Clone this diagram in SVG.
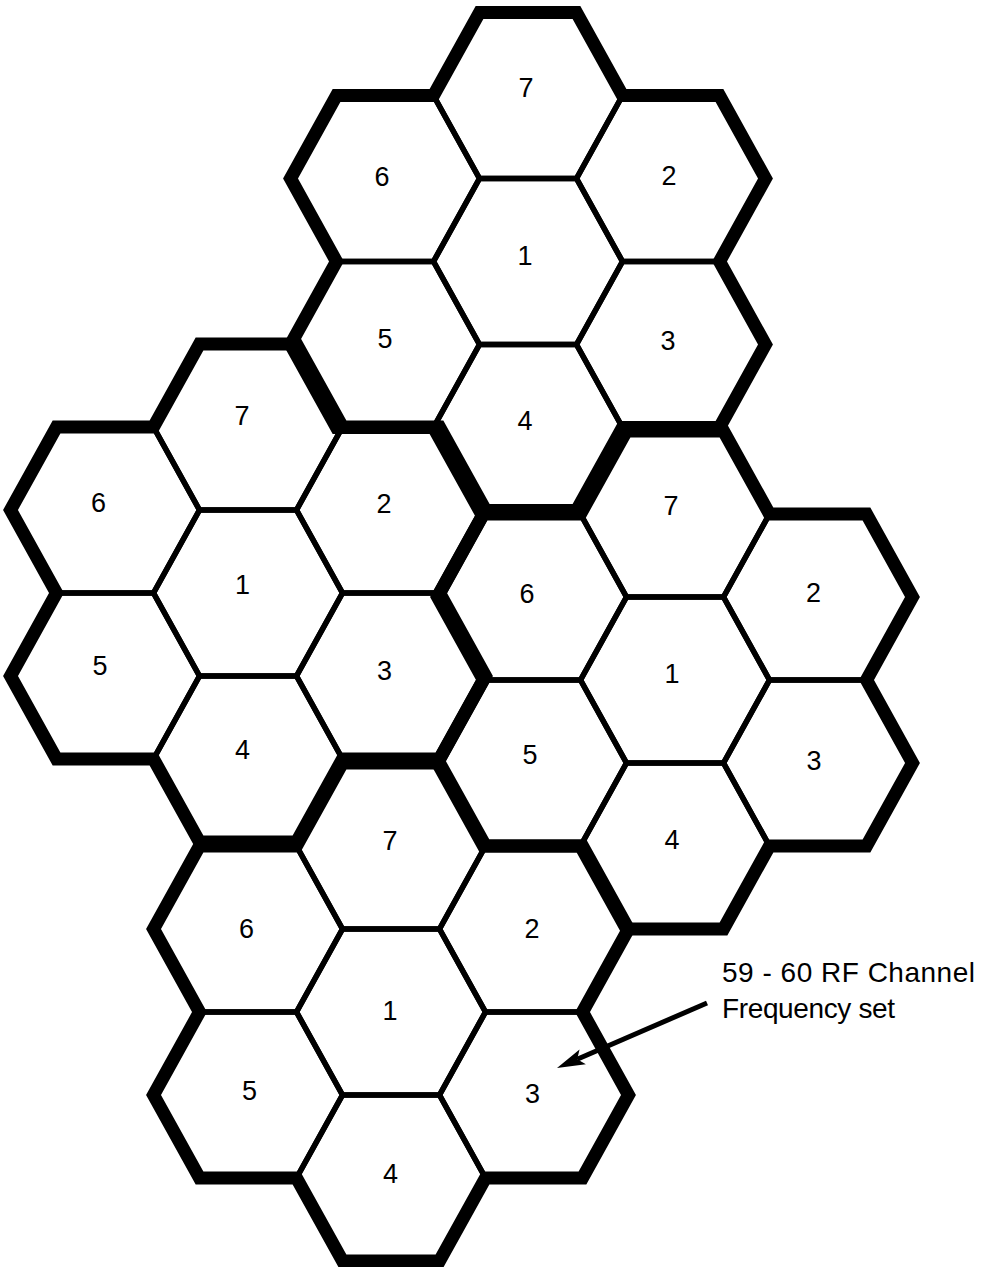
<svg xmlns="http://www.w3.org/2000/svg" xmlns:xlink="http://www.w3.org/1999/xlink" width="983" height="1267" viewBox="0 0 983 1267">
<style>
.cell{fill:none;stroke:#000;stroke-width:5.5;stroke-linejoin:miter}
.border{fill:none;stroke:#000;stroke-width:13;stroke-linejoin:miter;stroke-miterlimit:4}
.lbl{font-family:"Liberation Sans",Arial,sans-serif;font-size:27px;fill:#000;text-anchor:middle}
.note{font-family:"Liberation Sans",Arial,sans-serif;font-size:28px;fill:#000}
.arrow{fill:none;stroke:#000;stroke-width:5}
</style>
<defs>
<polygon id="hex" points="-94.5,0 -48.5,-83 48.5,-83 94.5,0 48.5,83 -48.5,83"/>
<path id="outline" d="M-48.5,-249 L48.5,-249 L94.5,-166 L191.5,-166 L237.5,-83 L191.5,0 L237.5,83 L191.5,166 L94.5,166 L48.5,249 L-48.5,249 L-94.5,166 L-191.5,166 L-237.5,83 L-191.5,0 L-237.5,-83 L-191.5,-166 L-94.5,-166 Z"/>
<marker id="head" markerUnits="userSpaceOnUse" orient="auto" refX="0" refY="0" markerWidth="1" markerHeight="1" overflow="visible">
<path d="M22,0 L-6,-8 L0,0 L-6,8 Z" fill="#000"/>
</marker>
</defs>
<rect width="983" height="1267" fill="#fff"/>

<g id="cluster-top">
<g id="top-7"><use href="#hex" class="cell" x="528" y="95.5"/><text class="lbl" x="526" y="97">7</text></g>
<g id="top-6"><use href="#hex" class="cell" x="385" y="178.5"/><text class="lbl" x="382" y="186">6</text></g>
<g id="top-2"><use href="#hex" class="cell" x="671" y="178.5"/><text class="lbl" x="669" y="185">2</text></g>
<g id="top-1"><use href="#hex" class="cell" x="528" y="261.5"/><text class="lbl" x="525" y="265">1</text></g>
<g id="top-5"><use href="#hex" class="cell" x="385" y="344.5"/><text class="lbl" x="385" y="348">5</text></g>
<g id="top-3"><use href="#hex" class="cell" x="671" y="344.5"/><text class="lbl" x="668" y="350">3</text></g>
<g id="top-4"><use href="#hex" class="cell" x="528" y="427.5"/><text class="lbl" x="525" y="430">4</text></g>
</g>

<g id="cluster-left">
<g id="left-7"><use href="#hex" class="cell" x="248" y="427"/><text class="lbl" x="242" y="425">7</text></g>
<g id="left-6"><use href="#hex" class="cell" x="105" y="510"/><text class="lbl" x="98.5" y="512">6</text></g>
<g id="left-2"><use href="#hex" class="cell" x="391" y="510"/><text class="lbl" x="384" y="513">2</text></g>
<g id="left-1"><use href="#hex" class="cell" x="248" y="593"/><text class="lbl" x="242.5" y="594">1</text></g>
<g id="left-5"><use href="#hex" class="cell" x="105" y="676"/><text class="lbl" x="100" y="675">5</text></g>
<g id="left-3"><use href="#hex" class="cell" x="391" y="676"/><text class="lbl" x="384.5" y="680">3</text></g>
<g id="left-4"><use href="#hex" class="cell" x="248" y="759"/><text class="lbl" x="242.5" y="759">4</text></g>
</g>

<g id="cluster-right">
<g id="right-7"><use href="#hex" class="cell" x="675" y="514"/><text class="lbl" x="671" y="515">7</text></g>
<g id="right-6"><use href="#hex" class="cell" x="532" y="597"/><text class="lbl" x="527" y="603">6</text></g>
<g id="right-2"><use href="#hex" class="cell" x="818" y="597"/><text class="lbl" x="813.5" y="602">2</text></g>
<g id="right-1"><use href="#hex" class="cell" x="675" y="680"/><text class="lbl" x="672" y="683">1</text></g>
<g id="right-5"><use href="#hex" class="cell" x="532" y="763"/><text class="lbl" x="530" y="764">5</text></g>
<g id="right-3"><use href="#hex" class="cell" x="818" y="763"/><text class="lbl" x="814" y="770">3</text></g>
<g id="right-4"><use href="#hex" class="cell" x="675" y="846"/><text class="lbl" x="672" y="849">4</text></g>
</g>

<g id="cluster-bottom">
<g id="bottom-7"><use href="#hex" class="cell" x="391" y="846"/><text class="lbl" x="390" y="850">7</text></g>
<g id="bottom-6"><use href="#hex" class="cell" x="248" y="929"/><text class="lbl" x="246.5" y="938">6</text></g>
<g id="bottom-2"><use href="#hex" class="cell" x="534" y="929"/><text class="lbl" x="532" y="938">2</text></g>
<g id="bottom-1"><use href="#hex" class="cell" x="391" y="1012"/><text class="lbl" x="390" y="1020">1</text></g>
<g id="bottom-5"><use href="#hex" class="cell" x="248" y="1095"/><text class="lbl" x="249.5" y="1100">5</text></g>
<g id="bottom-3"><use href="#hex" class="cell" x="534" y="1095"/><text class="lbl" x="532.5" y="1103">3</text></g>
<g id="bottom-4"><use href="#hex" class="cell" x="391" y="1178"/><text class="lbl" x="390.5" y="1183">4</text></g>
</g>

<g id="cluster-borders">
<use href="#outline" class="border" x="528" y="261.5"/>
<use href="#outline" class="border" x="248" y="593"/>
<use href="#outline" class="border" x="675" y="680"/>
<use href="#outline" class="border" x="391" y="1012"/>
</g>

<g id="annotation">
<text class="note" x="722" y="982" textLength="253">59 - 60 RF Channel</text>
<text class="note" x="722" y="1018" textLength="173">Frequency set</text>
</g>

<g id="connectors">
<line class="arrow" x1="707" y1="1003" x2="577.2" y2="1059.2" marker-end="url(#head)"/>
</g>
</svg>
